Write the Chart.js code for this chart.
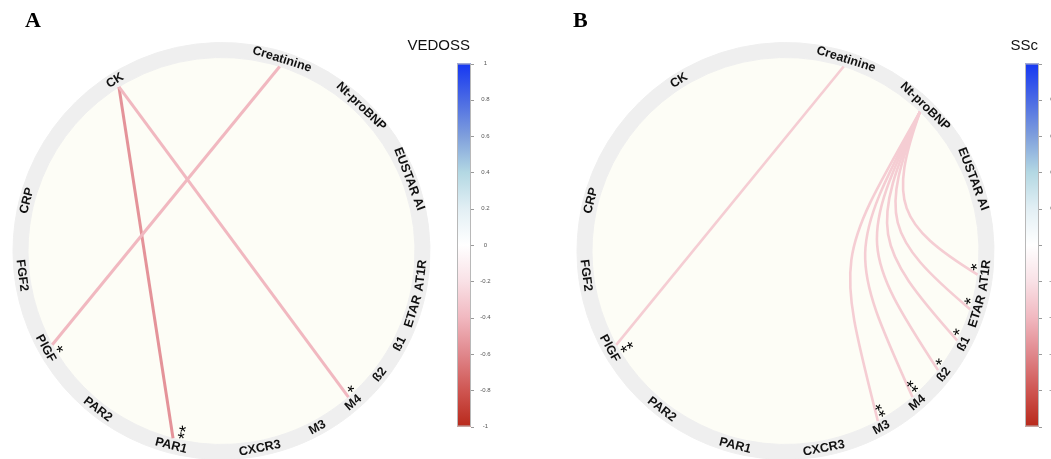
<!DOCTYPE html>
<html>
<head>
<meta charset="utf-8">
<script src="https://cdn.jsdelivr.net/npm/chart.js@4.4.1/dist/chart.umd.min.js"></script>
<style>
  html, body { margin: 0; padding: 0; background: #ffffff; }
  #wrap { position: relative; width: 1051px; height: 459px; overflow: hidden; }
  canvas { position: absolute; top: 0; }
  #chartA { left: 0; }
  #chartB { left: 525px; }
</style>
</head>
<body>
<div id="wrap">
  <canvas id="chartA" width="525" height="459"></canvas>
  <canvas id="chartB" width="526" height="459"></canvas>
</div>
<script>
// Variables placed around the circle, clockwise starting at CK
const VARIABLES = ["CK", "Creatinine", "Nt-proBNP", "EUSTAR AI", "AT1R", "ETAR", "ß1", "ß2",
                   "M4", "M3", "CXCR3", "PAR1", "PAR2", "PlGF", "FGF2", "CRP"];

// VEDOSS: significant correlations (from, to, coefficient, significance)
const VEDOSS_FROM = ["CK", "CK", "Creatinine"];
const VEDOSS_TO   = ["PAR1", "M4", "PlGF"];
const VEDOSS_R    = [-0.55, -0.4, -0.4];
const VEDOSS_SIG  = ["**", "*", "*"];

// SSc: significant correlations
const SSC_FROM = ["Creatinine", "Nt-proBNP", "Nt-proBNP", "Nt-proBNP", "Nt-proBNP", "Nt-proBNP", "Nt-proBNP"];
const SSC_TO   = ["PlGF", "AT1R", "ETAR", "ß1", "ß2", "M4", "M3"];
const SSC_R    = [-0.3, -0.3, -0.3, -0.3, -0.3, -0.3, -0.3];
const SSC_SIG  = ["**", "*", "*", "*", "*", "**", "**"];

// Colour key ticks
const COLORBAR_TICKS = [1, 0.8, 0.6, 0.4, 0.2, 0, -0.2, -0.4, -0.6, -0.8, -1];

// ---- layout (sector centres in degrees clockwise from 12 o'clock) ----
const SECTOR_MID = [328, 17.5, 44, 69, 97, 107.5, 117.5, 128, 139, 151.5, 169, 194.5, 218, 241, 263, 284.5];
const SECTOR_WIDTH = 6;
const DEG = Math.PI / 180;

// Diverging red-white-blue scale for correlation coefficients
const SCALE_STOPS = [
  [-1, "#b8291b"], [-0.8, "#cf5652"], [-0.6, "#e0878c"], [-0.4, "#f1b8c0"], [-0.2, "#f9e1e6"],
  [0, "#ffffff"], [0.2, "#e2eff4"], [0.4, "#b3d8e3"], [0.6, "#7f9fdc"], [0.8, "#4a6ae4"], [1, "#1537f2"]
];

function hexRgb(h) {
  return [parseInt(h.slice(1, 3), 16), parseInt(h.slice(3, 5), 16), parseInt(h.slice(5, 7), 16)];
}
function colorAt(v) {
  for (let i = 0; i < SCALE_STOPS.length - 1; i++) {
    const [v0, c0] = SCALE_STOPS[i], [v1, c1] = SCALE_STOPS[i + 1];
    if (v >= v0 && v <= v1) {
      const t = (v - v0) / (v1 - v0), a = hexRgb(c0), b = hexRgb(c1);
      const m = a.map((x, k) => Math.round(x + (b[k] - x) * t));
      return `rgb(${m[0]},${m[1]},${m[2]})`;
    }
  }
  return SCALE_STOPS[0][1];
}

// Ring segments: one per variable, with spacer segments between them
function ringSegments() {
  const values = [], names = [];
  const n = VARIABLES.length;
  for (let i = 0; i < n; i++) {
    values.push(SECTOR_WIDTH); names.push(VARIABLES[i]);
    let next = SECTOR_MID[(i + 1) % n];
    if (next <= SECTOR_MID[i]) next += 360;
    values.push(next - SECTOR_MID[i] - SECTOR_WIDTH); names.push("");
  }
  return { values, names };
}

function unit(x, y) {
  const d = Math.hypot(x, y);
  return [x / d, y / d];
}

const chordLayer = {
  id: "chordLayer",
  beforeDatasetsDraw(chart) {
    const el = chart.getDatasetMeta(0).data[0];
    const ctx = chart.ctx;
    ctx.save();
    ctx.beginPath();
    ctx.arc(el.x, el.y, el.innerRadius, 0, 2 * Math.PI);
    ctx.fillStyle = "#fdfdf6";
    ctx.fill();
    ctx.restore();
  },
  afterDatasetsDraw(chart, args, opts) {
    const meta = chart.getDatasetMeta(0);
    const ctx = chart.ctx;
    const first = meta.data[0];
    const cx = first.x, cy = first.y;
    const rIn = first.innerRadius, rOut = first.outerRadius;
    const sector = name => meta.data[2 * VARIABLES.indexOf(name)];
    const angleOf = el => (el.startAngle + el.endAngle) / 2;
    const at = (a, r) => [cx + r * Math.cos(a), cy + r * Math.sin(a)];

    // links: long ones straight, short ones bent towards the centre
    ctx.save();
    ctx.lineCap = "butt";
    opts.from.forEach((f, i) => {
      const a1 = angleOf(sector(f)), a2 = angleOf(sector(opts.to[i]));
      const p1 = at(a1, rIn), p2 = at(a2, rIn);
      let sep = Math.abs(a2 - a1) % (2 * Math.PI);
      if (sep > Math.PI) sep = 2 * Math.PI - sep;
      ctx.beginPath();
      ctx.moveTo(p1[0], p1[1]);
      if (sep >= 120 * DEG) {
        ctx.lineTo(p2[0], p2[1]);
      } else {
        const len = Math.hypot(p2[0] - p1[0], p2[1] - p1[1]);
        const c = unit(p2[0] - p1[0], p2[1] - p1[1]);
        const in1 = unit(cx - p1[0], cy - p1[1]);
        const in2 = unit(cx - p2[0], cy - p2[1]);
        const d1 = unit(1.5 * in1[0] + c[0], 1.5 * in1[1] + c[1]);
        const d2 = unit(1.5 * in2[0] - c[0], 1.5 * in2[1] - c[1]);
        const L = 0.55 * len;
        ctx.bezierCurveTo(p1[0] + d1[0] * L, p1[1] + d1[1] * L,
                          p2[0] + d2[0] * L, p2[1] + d2[1] * L,
                          p2[0], p2[1]);
      }
      ctx.strokeStyle = colorAt(opts.r[i]);
      ctx.lineWidth = opts.lineWidth;
      ctx.stroke();
    });
    ctx.restore();

    // sector labels, written along the ring
    ctx.save();
    ctx.font = 'bold 12.5px "Liberation Sans", Arial, sans-serif';
    ctx.fillStyle = "#111111";
    ctx.textAlign = "center";
    ctx.textBaseline = "middle";
    const rLab = (rIn + rOut) / 2;
    VARIABLES.forEach(name => {
      const a = angleOf(sector(name));
      const p = at(a, rLab);
      let theta = (a / DEG + 90) % 360;
      if (theta < 0) theta += 360;
      const rot = (theta > 90 && theta < 270) ? theta - 180 : theta;
      ctx.save();
      ctx.translate(p[0], p[1]);
      ctx.rotate(rot * DEG);
      ctx.fillText(name, 0, 0);
      ctx.restore();
    });
    ctx.restore();

    // significance marks at the link ends
    ctx.save();
    const fs = 18;
    ctx.font = `${fs}px "Liberation Sans", Arial, sans-serif`;
    ctx.fillStyle = "#000000";
    ctx.textAlign = "left";
    ctx.textBaseline = "alphabetic";
    opts.to.forEach((t, i) => {
      const a = angleOf(sector(t)) - 1.8 * DEG;
      const p = at(a, rIn - 2);
      ctx.save();
      ctx.translate(p[0], p[1]);
      ctx.rotate(a + Math.PI);
      ctx.fillText(opts.sig[i], -1, 0.57 * fs);
      ctx.restore();
    });
    ctx.restore();
  },
  afterDraw(chart, args, opts) {
    const ctx = chart.ctx;
    const x0 = opts.barLeft, w = 14, top = 63.5, bottom = 426.5;
    ctx.save();
    // colour key
    const g = ctx.createLinearGradient(0, top, 0, bottom);
    SCALE_STOPS.forEach(([v, c]) => g.addColorStop((1 - v) / 2, c));
    ctx.fillStyle = g;
    ctx.fillRect(x0, top, w, bottom - top);
    ctx.strokeStyle = "#b8b8b8";
    ctx.lineWidth = 1;
    ctx.strokeRect(x0 + 0.5, top + 0.5, w - 1, bottom - top - 1);
    ctx.strokeStyle = "#9a9a9a";
    ctx.font = '6px "Liberation Sans", Arial, sans-serif';
    ctx.fillStyle = "#555555";
    ctx.textAlign = "center";
    ctx.textBaseline = "middle";
    COLORBAR_TICKS.forEach(v => {
      const y = top + (1 - v) / 2 * (bottom - top);
      ctx.beginPath();
      ctx.moveTo(x0 + w, Math.round(y) + 0.5);
      ctx.lineTo(x0 + w + 3, Math.round(y) + 0.5);
      ctx.stroke();
      ctx.fillText(String(v), x0 + w + opts.tickLabelGap, y);
    });
    // key title
    ctx.font = '15px "Liberation Sans", Arial, sans-serif';
    ctx.fillStyle = "#111111";
    ctx.textAlign = "right";
    ctx.textBaseline = "alphabetic";
    ctx.fillText(opts.title, x0 + w - 1, 50);
    // panel letter
    ctx.font = 'bold 22px "Liberation Serif", "Times New Roman", serif';
    ctx.textAlign = "left";
    ctx.fillStyle = "#000000";
    ctx.fillText(opts.letter, opts.letterX, 27);
    ctx.restore();
  }
};

function makeChart(id, padRight, cfg) {
  const ring = ringSegments();
  return new Chart(document.getElementById(id), {
    type: "doughnut",
    data: {
      labels: ring.names,
      datasets: [{
        data: ring.values,
        backgroundColor: "#efefef",
        borderColor: "#efefef",
        borderWidth: 1,
        hoverOffset: 0,
        offset: 0
      }]
    },
    options: {
      responsive: false,
      animation: false,
      events: [],
      rotation: SECTOR_MID[0] - SECTOR_WIDTH / 2,
      radius: 208.5,
      cutout: (193.5 / 208.5 * 100) + "%",
      layout: { padding: { left: 0, right: padRight, top: 43, bottom: 0 } },
      plugins: {
        legend: { display: false },
        tooltip: { enabled: false },
        chordLayer: cfg
      }
    },
    plugins: [chordLayer]
  });
}

makeChart("chartA", 82, {
  from: VEDOSS_FROM, to: VEDOSS_TO, r: VEDOSS_R, sig: VEDOSS_SIG,
  lineWidth: 3, title: "VEDOSS", barLeft: 457, tickLabelGap: 14.5, letter: "A", letterX: 25
});
makeChart("chartB", 5, {
  from: SSC_FROM, to: SSC_TO, r: SSC_R, sig: SSC_SIG,
  lineWidth: 2.6, title: "SSc", barLeft: 500, tickLabelGap: 15.5, letter: "B", letterX: 48
});
</script>
</body>
</html>
